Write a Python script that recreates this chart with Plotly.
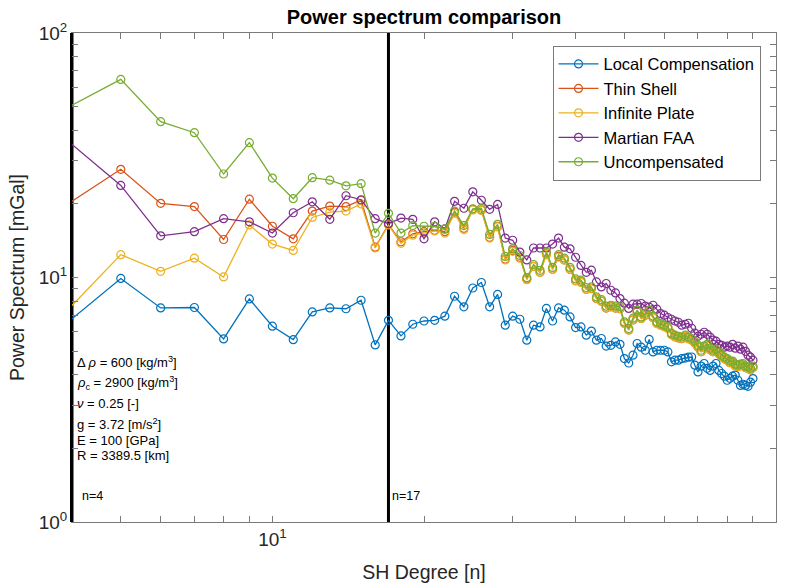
import math
import plotly.graph_objects as go

# Spherical-harmonic degrees
degrees = list(range(4, 91))

# Power spectra per compensation model [mGal]
local_comp = [
    6.78, 9.91, 7.51, 7.54, 5.61, 8.17, 6.32, 5.57, 7.23, 7.51, 7.45, 8.07, 5.30,
    6.68, 5.77, 6.44, 6.64, 6.68, 6.95, 8.38, 7.59, 9.06, 9.54, 7.59, 8.53, 6.38,
    6.95, 6.75, 5.54, 6.38, 6.28, 7.47, 6.64, 7.51, 7.35, 6.90, 6.24, 6.28, 5.81,
    6.04, 5.54, 5.63, 5.24, 5.28, 5.45, 5.33, 4.66, 4.47, 4.81, 5.37, 5.19, 5.04,
    5.58, 4.96, 5.04, 5.04, 5.04, 4.96, 4.52, 4.59, 4.59, 4.66, 4.68, 4.72, 4.73,
    4.38, 4.11, 4.34, 4.45, 4.25, 4.17, 4.34, 4.45, 4.17, 4.05, 3.95, 3.80, 3.87,
    3.95, 3.99, 3.80, 3.62, 3.66, 3.62, 3.59, 3.73, 3.86,
]
thin_shell = [
    20.5, 27.7, 20.1, 19.5, 14.3, 20.9, 16.2, 14.4, 18.7, 19.6, 19.5, 20.7, 13.3,
    16.5, 14.0, 15.1, 15.4, 15.6, 15.4, 18.5, 15.9, 19.0, 18.9, 14.6, 16.2, 11.9,
    12.9, 12.1, 9.85, 11.1, 10.5, 12.5, 10.8, 12.2, 11.8, 10.8, 9.7, 9.6, 8.95,
    9.0, 8.2, 8.0, 7.5, 7.6, 7.5, 7.45, 6.5, 6.1, 6.7, 7.25, 6.8, 7.0,
    7.25, 6.85, 6.5, 6.4, 6.3, 6.2, 5.85, 5.72, 5.66, 5.62, 5.72, 5.62, 5.55,
    5.4, 5.2, 4.97, 5.16, 5.25, 5.06, 4.97, 5.01, 4.88, 4.74, 4.65, 4.6, 4.48,
    4.48, 4.36, 4.32, 4.36, 4.38, 4.28, 4.25, 4.19, 4.28,
]
infinite_plate = [
    7.68, 12.4, 10.6, 12.0, 10.05, 16.4, 13.7, 12.9, 17.6, 18.5, 18.7, 20.0, 13.2,
    16.4, 13.8, 14.9, 15.2, 15.5, 15.2, 18.3, 15.7, 18.9, 18.8, 14.5, 16.1, 11.8,
    12.8, 12.0, 9.8, 11.1, 10.5, 12.4, 10.8, 12.1, 11.8, 10.8, 9.7, 9.55, 8.95,
    9.02, 8.22, 8.02, 7.52, 7.58, 7.52, 7.47, 6.48, 6.1, 6.72, 7.24, 6.8, 7.03,
    7.24, 6.85, 6.48, 6.38, 6.29, 6.19, 5.83, 5.73, 5.67, 5.63, 5.73, 5.62, 5.55,
    5.41, 5.21, 4.97, 5.17, 5.25, 5.07, 4.97, 5.02, 4.88, 4.74, 4.65, 4.59, 4.49,
    4.49, 4.36, 4.32, 4.36, 4.39, 4.28, 4.25, 4.19, 4.28,
]
martian_faa = [
    35.0, 23.8, 14.8, 15.4, 17.4, 16.9, 15.2, 18.4, 20.4, 17.3, 21.6, 20.8, 17.4,
    16.6, 17.5, 17.3, 14.4, 16.9, 15.8, 20.5, 19.2, 22.4, 20.7, 19.0, 19.9, 14.5,
    14.2, 12.7, 11.8, 13.2, 13.2, 13.2, 13.7, 14.5, 13.3, 13.1, 12.1, 11.2, 10.5,
    10.71, 9.59, 9.15, 9.45, 8.87, 8.65, 8.20, 7.85, 7.47, 7.78, 7.78, 7.83, 7.63,
    7.56, 7.70, 7.42, 7.12, 7.01, 6.86, 6.75, 6.64, 6.56, 6.38, 6.44, 6.50, 6.20,
    5.92, 5.75, 5.86, 5.97, 5.86, 5.70, 5.54, 5.49, 5.33, 5.28, 5.19, 5.24, 5.19,
    5.33, 5.14, 5.24, 5.09, 5.19, 4.99, 4.81, 4.72, 4.59,
]
uncompensated = [
    50.7, 64.6, 43.4, 39.1, 26.5, 35.6, 25.5, 21.0, 25.6, 25.0, 23.7, 24.2, 15.2,
    18.3, 15.2, 16.3, 16.2, 16.2, 15.8, 18.7, 16.3, 19.1, 19.2, 15.0, 16.5, 12.2,
    13.1, 12.3, 9.98, 11.3, 10.7, 12.7, 11.0, 12.4, 12.0, 11.0, 9.87, 9.75, 9.10,
    9.15, 8.33, 8.13, 7.63, 7.70, 7.63, 7.58, 6.58, 6.18, 6.82, 7.35, 6.90, 7.14,
    7.35, 6.95, 6.58, 6.48, 6.38, 6.28, 5.92, 5.81, 5.75, 5.71, 5.81, 5.70, 5.63,
    5.49, 5.28, 5.04, 5.24, 5.33, 5.14, 5.04, 5.09, 4.95, 4.81, 4.72, 4.66, 4.55,
    4.55, 4.42, 4.38, 4.42, 4.45, 4.34, 4.31, 4.25, 4.34,
]

series_names = ["Local Compensation", "Thin Shell", "Infinite Plate",
                "Martian FAA", "Uncompensated"]
series_values = [local_comp, thin_shell, infinite_plate, martian_faa, uncompensated]
series_colors = ["#0072BD", "#D95319", "#EDB120", "#7E2F8E", "#77AC30"]

# Degree markers drawn as vertical reference lines
marker_degrees = [4, 17]

# Model parameters listed in the lower-left corner
param_lines = [
    "Δ <i>ρ</i> = 600 [kg/m<sup>3</sup>]",
    "<i>ρ</i><sub>c</sub> = 2900 [kg/m<sup>3</sup>]",
    "<i>ν</i> = 0.25 [-]",
    "g = 3.72 [m/s<sup>2</sup>]",
    "E = 100 [GPa]",
    "R = 3389.5 [km]",
]
param_y = [0.327, 0.284, 0.242, 0.200, 0.167, 0.135]

x_major = [10, 100]
x_minor = [5, 6, 7, 8, 9, 20, 30, 40, 50, 60, 70, 80, 90]
y_major = [1, 10, 100]
y_minor = [2, 3, 4, 5, 6, 7, 8, 9, 20, 30, 40, 50, 60, 70, 80, 90]

X_MIN, X_MAX = 4, 100
Y_MIN, Y_MAX = 1, 100

FONT = "Liberation Sans, Arial, Helvetica, sans-serif"
TEXT_COLOR = "#262626"
AXIS_COLOR = "#7a7a7a"

fig = go.Figure()
for i, (name, vals, col) in enumerate(zip(series_names, series_values, series_colors)):
    fig.add_trace(go.Scatter(
        x=degrees, y=vals, name=name, mode="lines+markers",
        line=dict(color=col, width=1.3),
        marker=dict(symbol="circle-open", size=8, color=col, line=dict(width=1.2)),
        cliponaxis=False,
    ))

for d in marker_degrees:
    fig.add_shape(type="line", xref="x", yref="paper", x0=d, x1=d, y0=0, y1=1,
                  layer="below", line=dict(color="black", width=3))


def tick_setup(major, minor):
    vals = major + minor
    text = [f"10<sup>{round(math.log10(v))}</sup>" for v in major] + [""] * len(minor)
    return vals, text


xv, xt = tick_setup(x_major, x_minor)
yv, yt = tick_setup(y_major, y_minor)

axis_common = dict(
    showgrid=False, zeroline=False, showline=True, linecolor=AXIS_COLOR, linewidth=1,
    mirror="ticks", ticks="inside", ticklen=6, tickcolor=AXIS_COLOR, tickwidth=1,
    tickfont=dict(family=FONT, size=19, color=TEXT_COLOR), automargin=False,
)

fig.update_xaxes(type="log", range=[math.log10(X_MIN), math.log10(X_MAX)],
                 tickmode="array", tickvals=xv, ticktext=xt,
                 title=dict(text="SH Degree [n]", standoff=16,
                            font=dict(family=FONT, size=19.5, color=TEXT_COLOR)),
                 **axis_common)
fig.update_yaxes(type="log", range=[math.log10(Y_MIN), math.log10(Y_MAX)],
                 tickmode="array", tickvals=yv, ticktext=yt,
                 title=dict(text="Power Spectrum [mGal]", standoff=8,
                            font=dict(family=FONT, size=19.5, color=TEXT_COLOR)),
                 **axis_common)

# Heavy black line along the left edge, where the n=4 reference line sits
fig.update_layout(yaxis2=dict(
    overlaying="y", side="left", type="log",
    range=[math.log10(Y_MIN), math.log10(Y_MAX)],
    showline=True, linecolor="black", linewidth=2, automargin=False,
    showgrid=False, zeroline=False, ticks="", showticklabels=False,
))
fig.add_trace(go.Scatter(x=[], y=[], yaxis="y2", showlegend=False, hoverinfo="skip"))

annotations = []
for txt, yy in zip(param_lines, param_y):
    annotations.append(dict(text=txt, xref="paper", yref="paper", x=0, y=yy,
                            xanchor="left", yanchor="middle", xshift=3,
                            showarrow=False,
                            font=dict(family=FONT, size=13, color="black")))
for d, shift in zip(marker_degrees, [8, 2]):
    annotations.append(dict(text=f"n={d}", xref="x", yref="paper", x=math.log10(d),
                            y=0.053, xanchor="left", yanchor="middle", xshift=shift,
                            showarrow=False,
                            font=dict(family=FONT, size=12.5, color="black")))

fig.update_layout(
    width=790, height=583,
    margin=dict(l=72, r=14, t=33, b=61),
    paper_bgcolor="white", plot_bgcolor="white",
    font=dict(family=FONT, color=TEXT_COLOR),
    title=dict(text="<b>Power spectrum comparison</b>", x=0.5, xref="paper",
               y=1 - 17 / 583, yref="container", yanchor="middle",
               font=dict(family=FONT, size=20, color="black")),
    legend=dict(x=0.978, y=0.974, xanchor="right", yanchor="top",
                bgcolor="white", bordercolor=AXIS_COLOR, borderwidth=1,
                font=dict(family=FONT, size=16.5, color="black"),
                tracegroupgap=0, itemwidth=40),
    annotations=annotations,
    showlegend=True,
)

fig.write_html("out.html")
